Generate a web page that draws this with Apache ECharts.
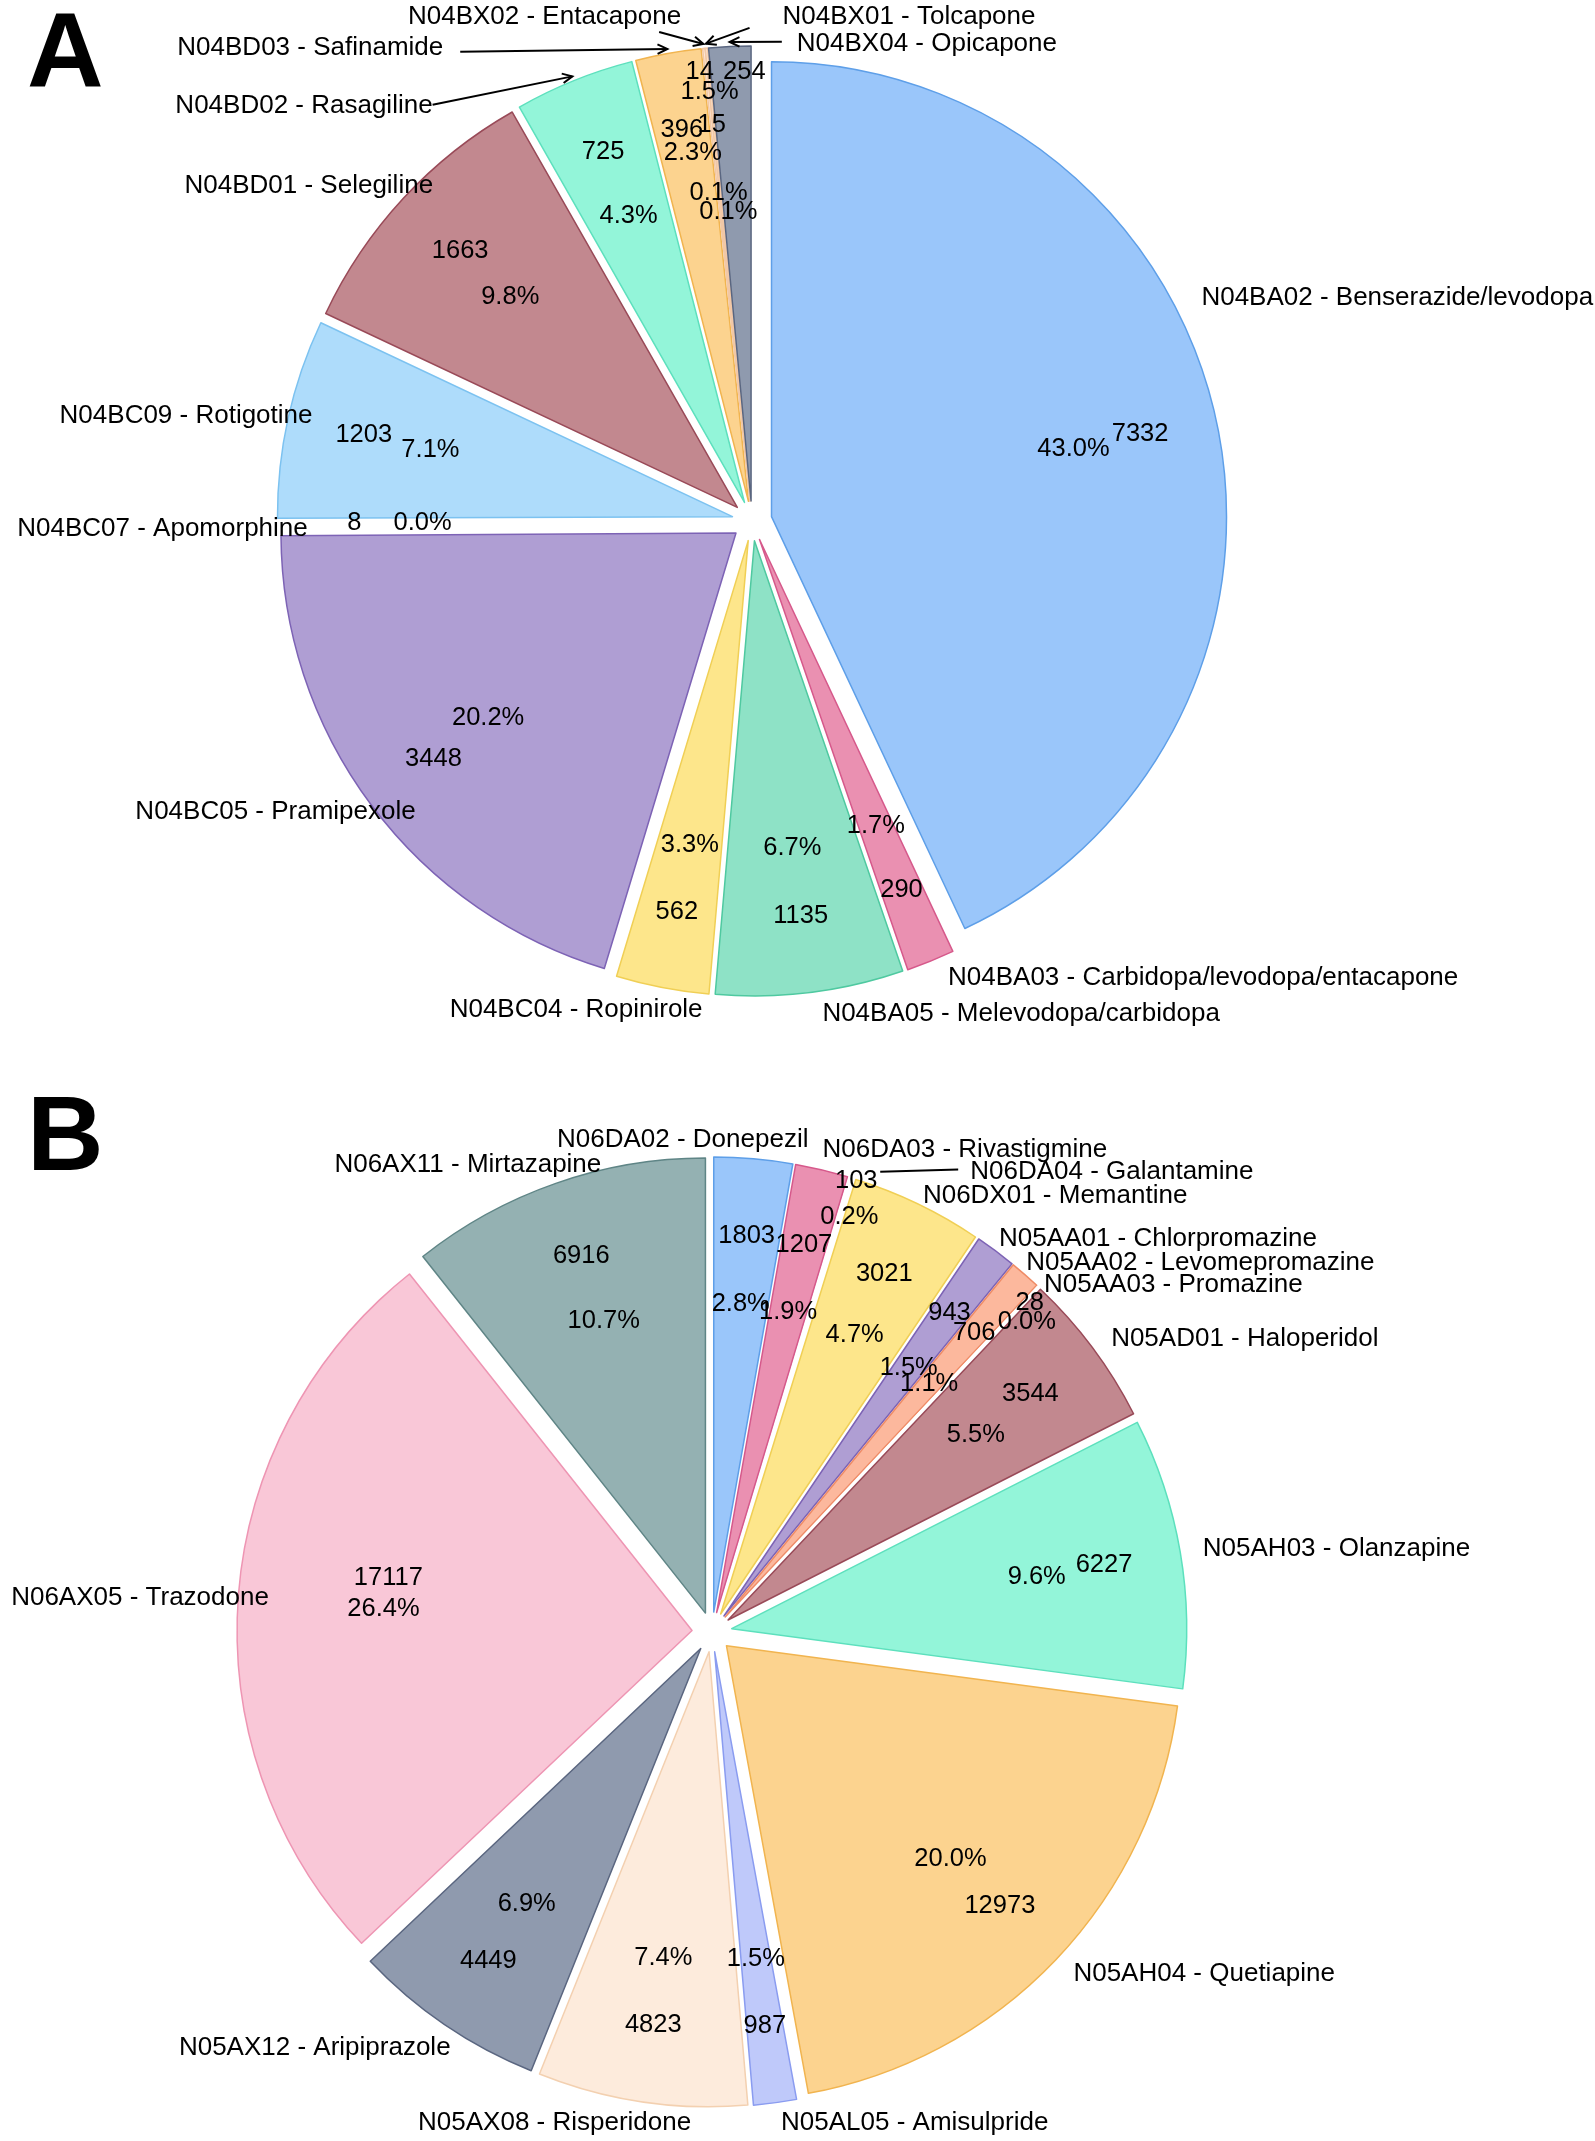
<!DOCTYPE html>
<html>
<head>
<meta charset="utf-8">
<script src="https://cdn.jsdelivr.net/npm/echarts/dist/echarts.min.js"></script>
<style>
html, body { margin: 0; padding: 0; background: #ffffff; }
#chart { width: 1595px; height: 2141px; }
</style>
</head>
<body>
<div id="chart"></div>
<script>
// ---------------- DATA ----------------
const namesA = [
  'N04BA02 - Benserazide/levodopa',
  'N04BA03 - Carbidopa/levodopa/entacapone',
  'N04BA05 - Melevodopa/carbidopa',
  'N04BC04 - Ropinirole',
  'N04BC05 - Pramipexole',
  'N04BC07 - Apomorphine',
  'N04BC09 - Rotigotine',
  'N04BD01 - Selegiline',
  'N04BD02 - Rasagiline',
  'N04BD03 - Safinamide',
  'N04BX02 - Entacapone',
  'N04BX01 - Tolcapone',
  'N04BX04 - Opicapone'
];
const valuesA = [7332, 290, 1135, 562, 3448, 8, 1203, 1663, 725, 396, 15, 14, 254];

const namesB = [
  'N06DA02 - Donepezil',
  'N06DA03 - Rivastigmine',
  'N06DA04 - Galantamine',
  'N06DX01 - Memantine',
  'N05AA01 - Chlorpromazine',
  'N05AA02 - Levomepromazine',
  'N05AA03 - Promazine',
  'N05AD01 - Haloperidol',
  'N05AH03 - Olanzapine',
  'N05AH04 - Quetiapine',
  'N05AL05 - Amisulpride',
  'N05AX08 - Risperidone',
  'N05AX12 - Aripiprazole',
  'N06AX05 - Trazodone',
  'N06AX11 - Mirtazapine'
];
const valuesB = [1803, 1207, 103, 3021, 943, 706, 28, 3544, 6227, 12973, 987, 4823, 4449, 17117, 6916];

// ---------------- STYLE / LAYOUT ----------------
const colorsA  = ['#9ac6fa','#ea90b1','#8ee2c6','#fde68b','#af9ed3','#ffffff','#aedcfb','#c2888f','#93f5d9','#fcd38f','#fde8d8','#fbe3cf','#8f9aae'];
const bordersA = ['#5e9fe8','#d6598b','#4fc9a0','#f0cf55','#7d63b5',null,'#7cc2f0','#994a58','#5de0bd','#f1b44f','#f2c8a6','#f2c8a6','#5a6680'];
const colorsB  = ['#9ac6fa','#ea90b1','#ffffff','#fde68b','#af9ed3','#fcb89d','#ffffff','#c2888f','#93f5d9','#fcd38f','#bfc9fa','#fdebdc','#8f9aae','#f9c7d7','#94b1b2'];
const bordersB = ['#5e9fe8','#d6598b',null,'#f0cf55','#7d63b5','#ef8b66',null,'#994a58','#5de0bd','#f1b44f','#8a9cf0','#f3d0b0','#5a6680','#ee95b3','#5f8586'];

const FONT = '"Liberation Sans", Arial, Helvetica, sans-serif';
const R = 455;          // pie radius (px)
const EXPLODE = 20;     // explode offset (px)
const PCT_F = 0.68, VAL_F = 0.83, NAME_F = 0.95;
const NAME_SIZE = 26, NUM_SIZE = 25.5;

const panelA = {
  names: namesA, values: valuesA, colors: colorsA, borders: bordersA,
  center: [752, 521],
  nameNudge: {0:[8,-125],1:[26,38],2:[15,44],3:[36,45],4:[26,20],5:[8,6],6:[2,-7],7:[13,-28],
              8:[-150,4],9:[-229,-28],10:[-25,-54,'right'],11:[74,-54,'left'],12:[66,-25,'left']},
  valueNudge: {11:[-14,-53], 12:[11,-52]},
  pctNudge: {9:[-1,-44], 11:[8,19], 12:[-27,-100]},
  arrows: [{i:8, tail:[0,-1]}, {i:9, tail:[17,4]}, {i:10, tail:[-22,15]}, {i:11, tail:[-33,11]}, {i:12, tail:[-15,-2.5]}],
  lines: [],
  letter: {text: 'A', x: 27, y: 58}
};
const panelB = {
  names: namesB, values: valuesB, colors: colorsB, borders: bordersB,
  center: [712, 1632],
  nameNudge: {0:[57,-42,'right'],1:[6,-42],2:[126,-28],3:[15,-29],4:[17,-30],5:[16,-29],6:[22,-18],7:[37,-22],
              8:[45,-7],9:[34,30],10:[9,43],11:[46,44],12:[-7,42],13:[8,-2],14:[38,-40]},
  valueNudge: {2:[28,-71], 6:[45,-40], 13:[73,-26]},
  pctNudge: {2:[41,-100], 6:[89,-70]},
  arrows: [],
  lines: [{i:2, fromOff:[24,-9], toOff:[-12,-2]}],
  letter: {text: 'B', x: 27, y: 1141}
};

// ---------------- GEOMETRY (from data) ----------------
function computeGeo(values) {
  const total = values.reduce((a, b) => a + b, 0);
  let cum = 0;
  return values.map(v => {
    const a0 = cum / total * 360; cum += v; const a1 = cum / total * 360;
    const mid = (a0 + a1) / 2 * Math.PI / 180;
    return { dir: [Math.sin(mid), -Math.cos(mid)], pct: v / total * 100 };
  });
}
panelA.geo = computeGeo(valuesA);
panelB.geo = computeGeo(valuesB);

function pt(panel, i, f) {
  const g = panel.geo[i], d = EXPLODE + f * R;
  return [panel.center[0] + d * g.dir[0], panel.center[1] + d * g.dir[1]];
}
function anchor(panel, i, f, nudges) {
  const p = pt(panel, i, f), n = nudges[i];
  return n ? [p[0] + n[0], p[1] + n[1]] : p;
}

// ---------------- SERIES ----------------
function baseSeries(panel) {
  return {
    type: 'pie', center: panel.center, radius: [0, R], startAngle: 90, clockwise: true,
    selectedMode: 'multiple', selectedOffset: EXPLODE, avoidLabelOverlap: false,
    silent: true, z: 2, emphasis: { disabled: true },
    label: { show: false }, labelLine: { show: false },
    data: panel.names.map((n, i) => {
      const b = panel.borders[i];
      const st = { color: panel.colors[i], borderColor: b || panel.colors[i], borderWidth: b ? 1.5 : 0, opacity: 1 };
      return { name: n, value: panel.values[i], selected: true, itemStyle: st, select: { itemStyle: st } };
    })
  };
}
function labelSeries(panel, kind) {
  const isName = kind === 'name';
  return {
    type: 'pie', center: panel.center, radius: [0, R], startAngle: 90, clockwise: true,
    avoidLabelOverlap: false, silent: true, z: 5, emphasis: { disabled: true },
    itemStyle: { color: 'rgba(0,0,0,0)', borderWidth: 0 },
    data: panel.names.map((n, i) => ({ name: n, value: panel.values[i] })),
    label: {
      show: true, position: 'inside', color: '#000', fontFamily: FONT,
      fontSize: isName ? NAME_SIZE : NUM_SIZE, textBorderWidth: 0,
      formatter: p => kind === 'name' ? p.name
                    : kind === 'value' ? String(p.value)
                    : panel.geo[p.dataIndex].pct.toFixed(1) + '%'
    },
    labelLine: { show: false },
    labelLayout: function (params) {
      const i = params.dataIndex;
      if (isName) {
        const a = anchor(panel, i, NAME_F, panel.nameNudge);
        const n = panel.nameNudge[i];
        const align = (n && n[2]) || (panel.geo[i].dir[0] >= 0 ? 'left' : 'right');
        return { x: a[0], y: a[1], align: align, verticalAlign: 'middle', hideOverlap: false };
      }
      const a = kind === 'value' ? anchor(panel, i, VAL_F, panel.valueNudge)
                                 : anchor(panel, i, PCT_F, panel.pctNudge);
      return { x: a[0], y: a[1], align: 'center', verticalAlign: 'middle', hideOverlap: false };
    }
  };
}

// ---------------- ANNOTATION GRAPHICS ----------------
function lineEl(a, b) {
  return { type: 'line', z: 20, shape: { x1: a[0], y1: a[1], x2: b[0], y2: b[1] },
           style: { stroke: '#000', lineWidth: 2 } };
}
function arrowEls(tail, tip) {
  const ang = Math.atan2(tip[1] - tail[1], tip[0] - tail[0]);
  const L = 11, s = 0.45;
  const p1 = [tip[0] - L * Math.cos(ang - s), tip[1] - L * Math.sin(ang - s)];
  const p2 = [tip[0] - L * Math.cos(ang + s), tip[1] - L * Math.sin(ang + s)];
  return [lineEl(tail, tip),
          { type: 'polyline', z: 20, shape: { points: [p1, tip, p2] },
            style: { stroke: '#000', lineWidth: 2, fill: null } }];
}
function panelGraphics(panel) {
  let els = [{
    type: 'text', z: 20, x: panel.letter.x, y: panel.letter.y,
    style: { text: panel.letter.text, fontSize: 106, fontWeight: 'bold', fontFamily: FONT,
             fill: '#000', align: 'left', verticalAlign: 'middle' }
  }];
  panel.arrows.forEach(a => {
    const nm = anchor(panel, a.i, NAME_F, panel.nameNudge);
    const tail = [nm[0] + a.tail[0], nm[1] + a.tail[1]];
    const tip = pt(panel, a.i, 1.01);
    els = els.concat(arrowEls(tail, tip));
  });
  panel.lines.forEach(l => {
    const v = anchor(panel, l.i, VAL_F, panel.valueNudge);
    const nm = anchor(panel, l.i, NAME_F, panel.nameNudge);
    els.push(lineEl([v[0] + l.fromOff[0], v[1] + l.fromOff[1]], [nm[0] + l.toOff[0], nm[1] + l.toOff[1]]));
  });
  return els;
}

const chart = echarts.init(document.getElementById('chart'), null, { renderer: 'canvas' });
chart.setOption({
  backgroundColor: '#ffffff',
  animation: false,
  series: [
    baseSeries(panelA), labelSeries(panelA, 'name'), labelSeries(panelA, 'value'), labelSeries(panelA, 'pct'),
    baseSeries(panelB), labelSeries(panelB, 'name'), labelSeries(panelB, 'value'), labelSeries(panelB, 'pct')
  ],
  graphic: { elements: panelGraphics(panelA).concat(panelGraphics(panelB)) }
});
</script>
</body>
</html>
